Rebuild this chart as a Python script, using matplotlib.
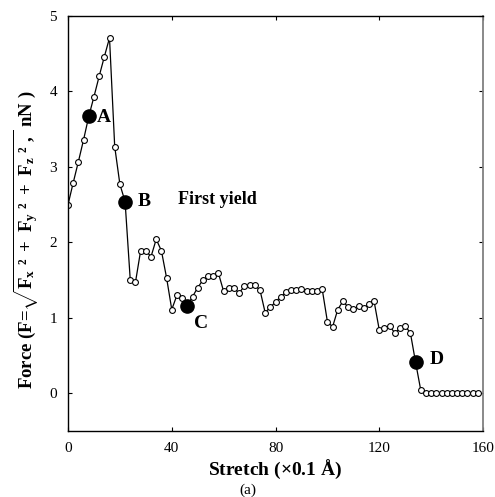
import numpy as np
import matplotlib
matplotlib.use('Agg')
import matplotlib.pyplot as plt

plt.rcParams['font.family'] = 'Liberation Serif'
plt.rcParams['mathtext.fontset'] = 'custom'
plt.rcParams['mathtext.rm'] = 'Liberation Serif:bold'
plt.rcParams['mathtext.bf'] = 'Liberation Serif:bold'
plt.rcParams['mathtext.it'] = 'Liberation Serif:bold'

# stretch (x 0.1 A) and force (nN)
stretch = np.arange(0, 160, 2)
force = [2.50, 2.79, 3.07, 3.36, 3.67, 3.93, 4.20, 4.46, 4.71, 3.27,
         2.77, 2.54, 1.50, 1.47, 1.89, 1.89, 1.81, 2.04, 1.89, 1.53,
         1.11, 1.30, 1.26, 1.16, 1.28, 1.40, 1.50, 1.55, 1.55, 1.59,
         1.35, 1.39, 1.39, 1.33, 1.42, 1.43, 1.43, 1.37, 1.07, 1.14,
         1.21, 1.28, 1.34, 1.37, 1.37, 1.38, 1.35, 1.35, 1.36, 1.38,
         0.95, 0.88, 1.11, 1.22, 1.14, 1.12, 1.15, 1.13, 1.18, 1.22,
         0.84, 0.87, 0.89, 0.80, 0.86, 0.89, 0.80, 0.41, 0.04, 0.0,
         0.0, 0.0, 0.0, 0.0, 0.0, 0.0, 0.0, 0.0, 0.0, 0.0]

# highlighted states
key_labels = ['A', 'B', 'C', 'D']
key_stretch = [8, 22, 46, 134]
label_pos = [(11.2, 3.66), (27.0, 2.54), (48.5, 0.92), (139.5, 0.45)]

force = np.array(force)
open_mask = ~np.isin(stretch, key_stretch)

fig = plt.figure(figsize=(4.95, 4.97), dpi=100)
ax = fig.add_axes([0.1374, 0.1328, 0.8384, 0.835])

ax.plot(stretch, force, '-', color='k', lw=0.9)
ax.plot(stretch[open_mask], force[open_mask], 'o', mfc='white', mec='k',
        ms=4.2, mew=0.8)
key_force = force[np.isin(stretch, key_stretch)]
ax.plot(key_stretch, key_force, 'o', color='k', ms=9.5)

for lab, (lx, ly) in zip(key_labels, label_pos):
    ax.text(lx, ly, lab, fontsize=14, fontweight='bold', va='center', ha='left')
ax.text(42.5, 2.57, 'First yield', fontsize=13, fontweight='bold',
        va='center', ha='left')

ax.set_xlim(0, 160)
ax.set_ylim(-0.5, 5)
ax.set_xticks([0, 40, 80, 120, 160])
ax.set_yticks([0, 1, 2, 3, 4, 5])
ax.tick_params(direction='in', top=True, right=True, length=3, width=0.8,
               labelsize=11, colors='k', pad=8)
for s in ['left', 'bottom', 'top']:
    ax.spines[s].set_linewidth(1.0)
ax.spines['right'].set_color('0.5')
ax.spines['right'].set_linewidth(1.3)

ax.set_xlabel('Stretch ($\\times$0.1 Å)', fontsize=14, fontweight='bold',
              labelpad=2)
ax.set_ylabel('Force (F=$\\sqrt{\\mathrm{F_x\\ ²\\ +\\ F_y\\ ²\\ +\\ F_z\\ ²\\ ,}}$ nN )',
              fontsize=13.5, fontweight='bold')
ax.yaxis.set_label_coords(-0.066, 0.46)
fig.text(0.501, 0.014, '(a)', fontsize=11, ha='center', va='center')

fig.savefig('out.png', dpi=100)
